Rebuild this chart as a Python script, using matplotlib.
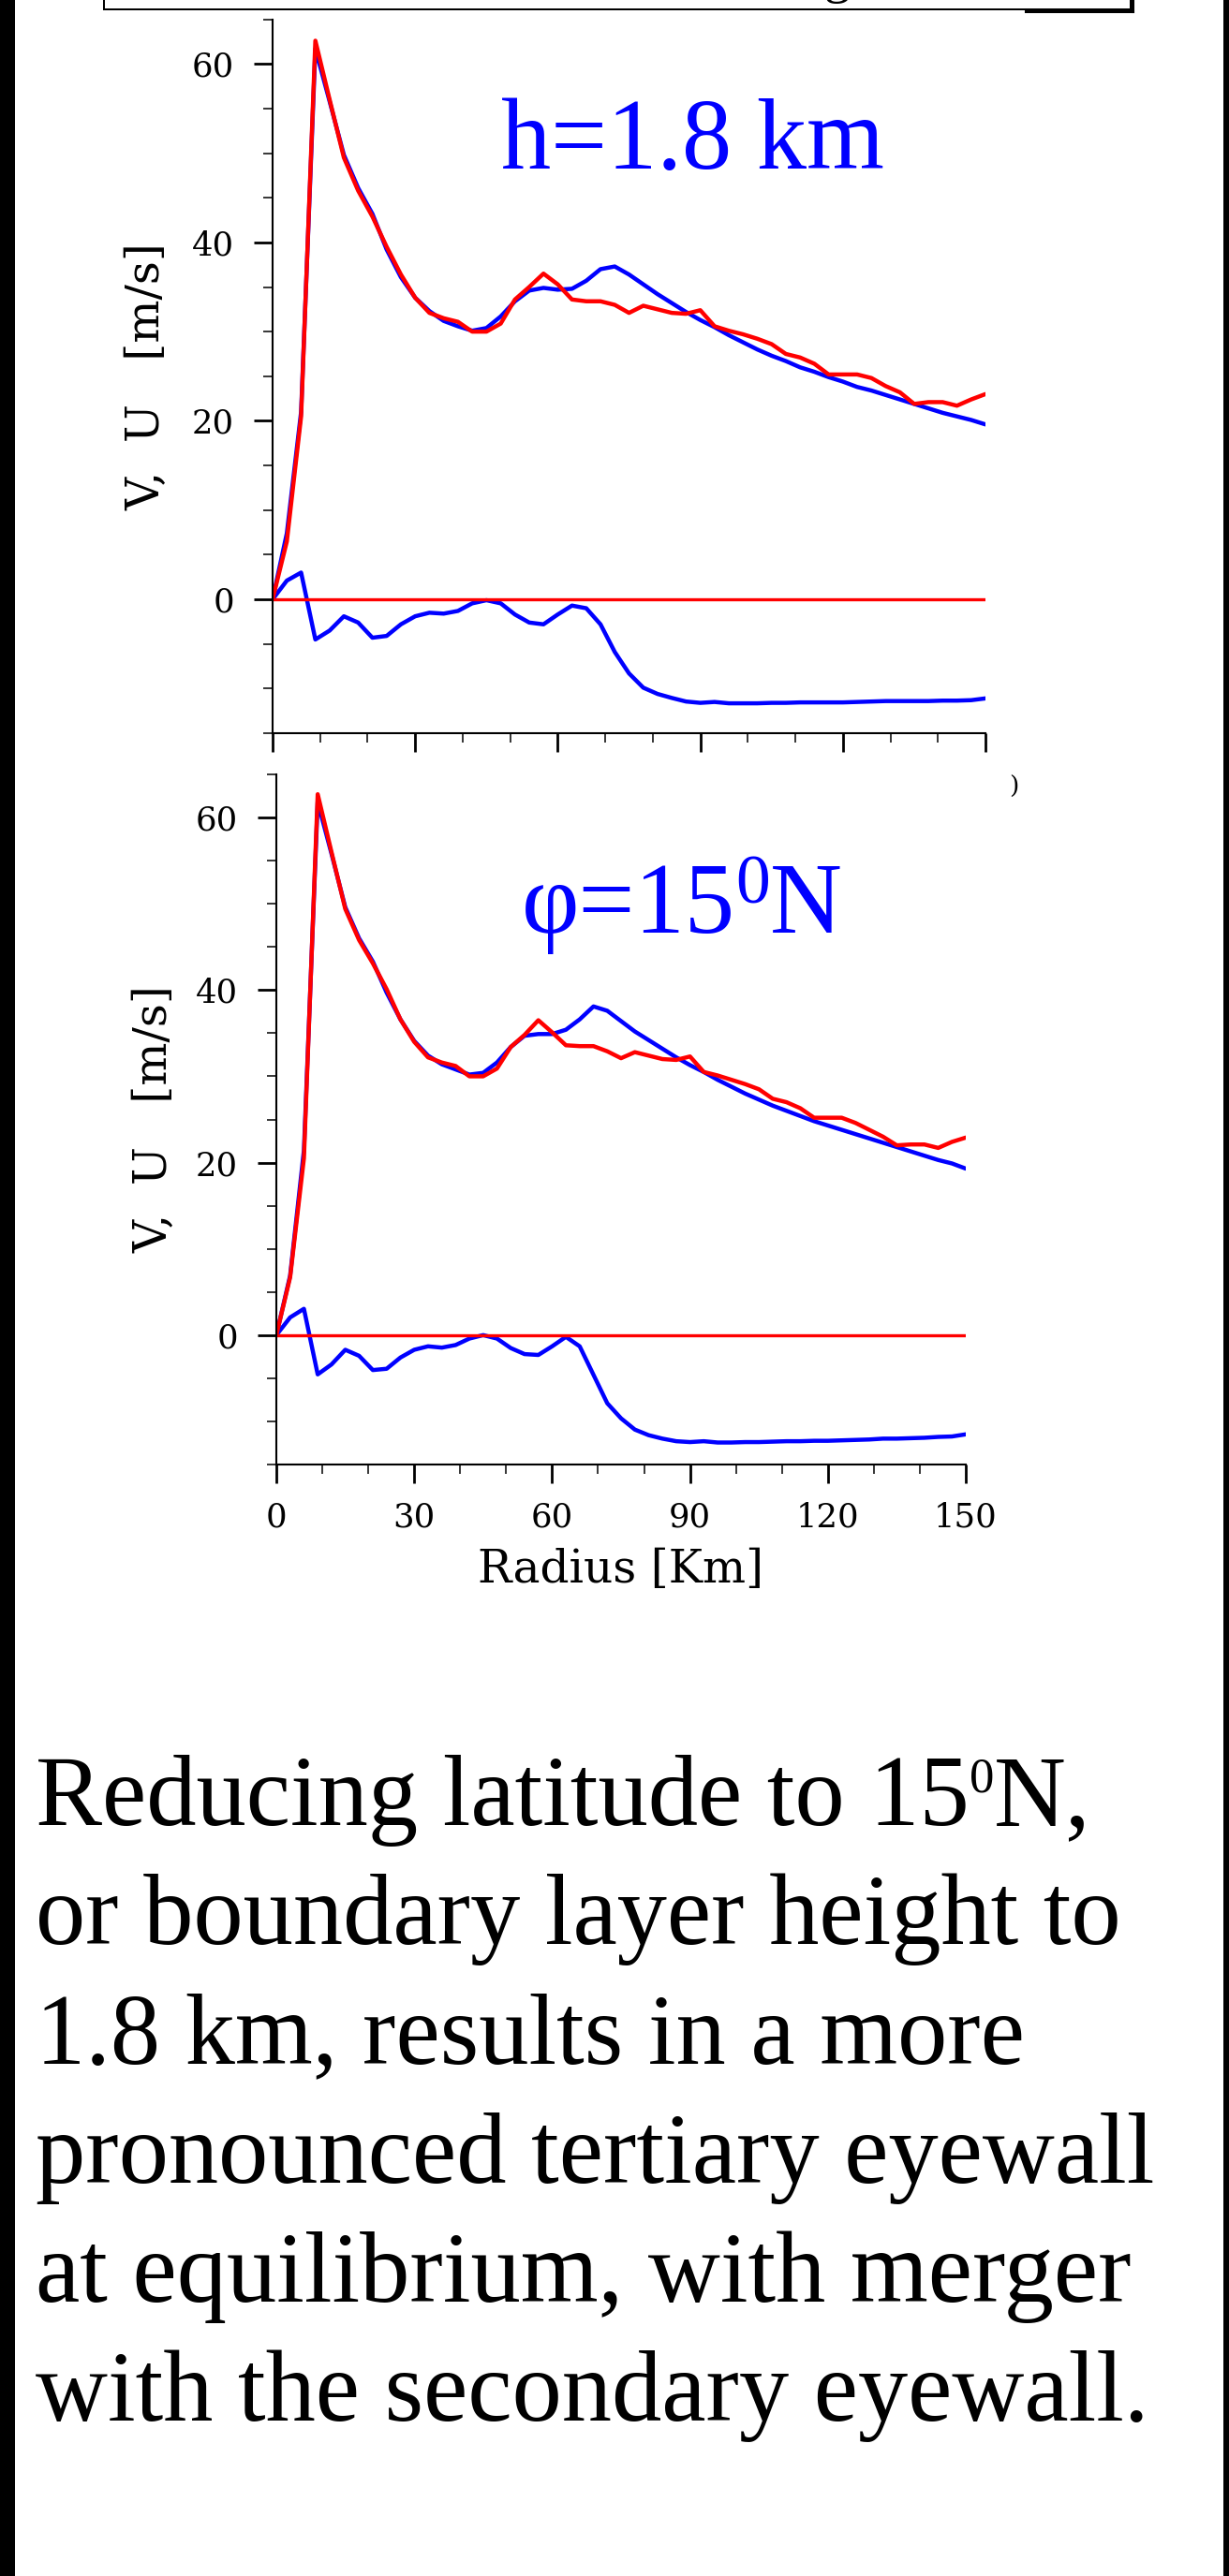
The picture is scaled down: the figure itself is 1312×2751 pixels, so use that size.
import numpy as np
import matplotlib
matplotlib.use("Agg")
import matplotlib.pyplot as plt
from matplotlib.patches import Rectangle
from matplotlib.lines import Line2D
from matplotlib.ticker import MultipleLocator, FixedLocator

W, H = 1312, 2751

# ---------------- data ----------------
radius = np.arange(0, 151, 3)  # km

# Panel 1: h = 1.8 km
v_blue_h = [0, 7.4, 21.0, 61.7, 55.8, 49.8, 46.1, 43.2, 39.2, 36.1,
            33.8, 32.3, 31.2, 30.6, 30.1, 30.4, 31.7, 33.4, 34.6, 34.9,
            34.7, 34.8, 35.7, 37.0, 37.3, 36.4, 35.3, 34.2, 33.2, 32.2,
            31.3, 30.5, 29.6, 28.8, 28.0, 27.3, 26.7, 26.0, 25.5, 24.9,
            24.4, 23.8, 23.4, 22.9, 22.4, 21.9, 21.4, 20.9, 20.5, 20.1, 19.6]
v_red_h = [0, 6.5, 20.5, 62.6, 56.0, 49.5, 45.8, 42.9, 39.5, 36.4,
           33.8, 32.1, 31.5, 31.1, 30.0, 30.0, 30.9, 33.6, 35.0, 36.5,
           35.3, 33.6, 33.4, 33.4, 33.0, 32.1, 32.9, 32.5, 32.1, 32.0,
           32.4, 30.6, 30.1, 29.7, 29.2, 28.6, 27.5, 27.1, 26.4, 25.2,
           25.2, 25.2, 24.8, 23.9, 23.2, 21.9, 22.1, 22.1, 21.7, 22.4, 23.0]
u_blue_h = [0, 2.1, 3.0, -4.5, -3.5, -1.9, -2.6, -4.3, -4.1, -2.8,
            -1.9, -1.5, -1.6, -1.3, -0.45, -0.1, -0.45, -1.7, -2.6, -2.8,
            -1.7, -0.7, -1.0, -2.8, -5.9, -8.3, -9.9, -10.6, -11.05, -11.45,
            -11.6, -11.5, -11.65, -11.65, -11.65, -11.6, -11.6, -11.55, -11.55, -11.55,
            -11.55, -11.5, -11.45, -11.4, -11.4, -11.4, -11.4, -11.35, -11.35, -11.3, -11.1]
u_red_h = [0.0] * 51

# Panel 2: phi = 15N
v_blue_p = [0, 6.9, 21.4, 61.8, 55.8, 49.6, 46.0, 43.3, 39.7, 36.6,
            34.1, 32.4, 31.4, 30.8, 30.2, 30.4, 31.6, 33.4, 34.7, 34.9,
            34.9, 35.4, 36.6, 38.1, 37.6, 36.4, 35.2, 34.2, 33.2, 32.2,
            31.3, 30.5, 29.6, 28.8, 28.0, 27.3, 26.6, 26.0, 25.4, 24.8,
            24.3, 23.8, 23.3, 22.8, 22.3, 21.8, 21.3, 20.8, 20.3, 19.9, 19.3]
v_red_p = [0, 6.7, 20.5, 62.7, 56.0, 49.4, 45.8, 43.1, 40.1, 36.6,
           34.0, 32.2, 31.6, 31.2, 30.0, 30.0, 30.9, 33.4, 34.8, 36.5,
           35.1, 33.6, 33.5, 33.5, 32.9, 32.1, 32.8, 32.4, 32.0, 31.9,
           32.3, 30.5, 30.1, 29.6, 29.1, 28.5, 27.4, 27.0, 26.3, 25.2,
           25.2, 25.2, 24.6, 23.8, 23.0, 22.0, 22.1, 22.1, 21.7, 22.4, 22.9]
u_blue_p = [0, 2.05, 3.05, -4.55, -3.4, -1.7, -2.4, -4.05, -3.9, -2.6,
            -1.7, -1.3, -1.45, -1.15, -0.4, 0.0, -0.4, -1.5, -2.2, -2.3,
            -1.3, -0.2, -1.3, -4.6, -7.9, -9.65, -10.95, -11.6, -12.0, -12.3,
            -12.4, -12.3, -12.45, -12.45, -12.4, -12.4, -12.35, -12.3, -12.3, -12.25,
            -12.25, -12.2, -12.15, -12.1, -12.0, -12.0, -11.95, -11.9, -11.8, -11.75, -11.5]
u_red_p = [0.0] * 51

y_major = [0, 20, 40, 60]
x_major_step = 30

body_lines = ["or boundary layer height to",
              "1.8 km, results in a more",
              "pronounced tertiary eyewall",
              "at equilibrium, with merger",
              "with the secondary eyewall."]

# ---------------- figure ----------------
plt.rcParams['font.family'] = ['DejaVu Serif']
fig = plt.figure(figsize=(W / 100, H / 100), dpi=100)
fig.patch.set_facecolor('white')

BLUE = '#0000ff'
RED = '#ff0000'
SERIF = ['Liberation Serif', 'DejaVu Serif']


def fx(x):
    return x / W


def fy(y):
    return 1 - y / H


def px_axes(l, t, r, b):
    return fig.add_axes([l / W, 1 - b / H, (r - l) / W, (b - t) / H])


def style(ax, show_xlabels):
    ax.set_facecolor('none')
    ax.set_xlim(0, 150)
    ax.set_ylim(-15, 65)
    for s in ['top', 'right']:
        ax.spines[s].set_visible(False)
    for s in ['left', 'bottom']:
        ax.spines[s].set_linewidth(1.5)
    ax.xaxis.set_major_locator(MultipleLocator(x_major_step))
    ax.xaxis.set_minor_locator(MultipleLocator(10))
    ax.yaxis.set_major_locator(FixedLocator(y_major))
    ax.yaxis.set_minor_locator(MultipleLocator(5))
    ax.tick_params(which='major', direction='out', length=14.4, width=2.0,
                   labelsize=25.5)
    ax.tick_params(which='minor', direction='out', length=7.0, width=1.1)
    ax.tick_params(axis='x', which='major', pad=14, labelbottom=show_xlabels)
    ax.tick_params(axis='y', which='major', pad=15)


def draw(ax, vb, ub, vr, ur):
    kw = dict(solid_joinstyle='round', solid_capstyle='round')
    ax.plot(radius, vb, color=BLUE, lw=3.2, **kw)
    ax.plot(radius, ub, color=BLUE, lw=3.2, **kw)
    ax.plot(radius, vr, color=RED, lw=3.2, **kw)
    ax.plot(radius, ur, color=RED, lw=2.4, **kw)


ax1 = px_axes(291, 20.6, 1052, 783)
ax2 = px_axes(295, 827, 1031, 1564)
style(ax1, False)
style(ax2, True)
draw(ax1, v_blue_h, u_blue_h, v_red_h, u_red_h)
draw(ax2, v_blue_p, u_blue_p, v_red_p, u_red_p)

ylab = 'V,  U   [m/s]'
ax1.text((157 - 291) / 761, 0.5, ylab, transform=ax1.transAxes,
         rotation=90, ha='center', va='center', fontsize=35)
ax2.text((164.6 - 295) / 736, 0.5, ylab, transform=ax2.transAxes,
         rotation=90, ha='center', va='center', fontsize=35)
ax2.text(0.5, (1564 - 1676) / 737, 'Radius [Km]', transform=ax2.transAxes,
         ha='center', va='center', fontsize=35)

# stray fragment at right
fig.text(fx(1082), fy(840), ')', fontsize=19, ha='center', va='center')

# ---------------- frame decorations ----------------
fig.patches.append(Rectangle((0, 0), fx(16), 1, transform=fig.transFigure,
                             facecolor='black', edgecolor='none', zorder=5))
fig.patches.append(Rectangle((fx(1306), 0), fx(6), 1, transform=fig.transFigure,
                             facecolor='black', edgecolor='none', zorder=5))
fig.patches.append(Rectangle((fx(111), fy(10)), fx(1207 - 111), 30 / H,
                             transform=fig.transFigure, facecolor='white',
                             edgecolor='black', linewidth=1.44, zorder=3))
fig.lines.append(Line2D([fx(1095), fx(1209)], [fy(11.8), fy(11.8)],
                        transform=fig.transFigure, color='black', lw=2.2, zorder=4))
fig.lines.append(Line2D([fx(1208.6), fx(1208.6)], [fy(-2), fy(11.8)],
                        transform=fig.transFigure, color='black', lw=2.2, zorder=4))
fig.text(fx(880), 1 + 7.5 / H, 'g', fontsize=40, family=SERIF, va='baseline',
         zorder=6)

renderer = fig.canvas.get_renderer()


def pieces(x_px, base_px, parts, color):
    x = x_px
    for s, size, rise in parts:
        t = fig.text(fx(x), fy(base_px - rise), s, fontsize=size, family=SERIF,
                     color=color, ha='left', va='baseline')
        bb = t.get_window_extent(renderer=renderer)
        x += bb.width


# annotations
pieces(535, 180, [('h=1.8 km', 76.7, 0)], BLUE)
pieces(557, 996, [('φ=15', 76.7, 0), ('0', 53, 31), ('N', 76.7, 0)], BLUE)

# body text
baselines = [1949, 2076, 2203, 2331, 2458, 2585]
pieces(38, baselines[0], [('Reducing latitude to 15', 76.7, 0), ('0', 38, 36),
                          ('N,', 76.7, 0)], 'black')
for line, b in zip(body_lines, baselines[1:]):
    pieces(38, b, [(line, 76.7, 0)], 'black')

fig.savefig('out.png', dpi=100)
